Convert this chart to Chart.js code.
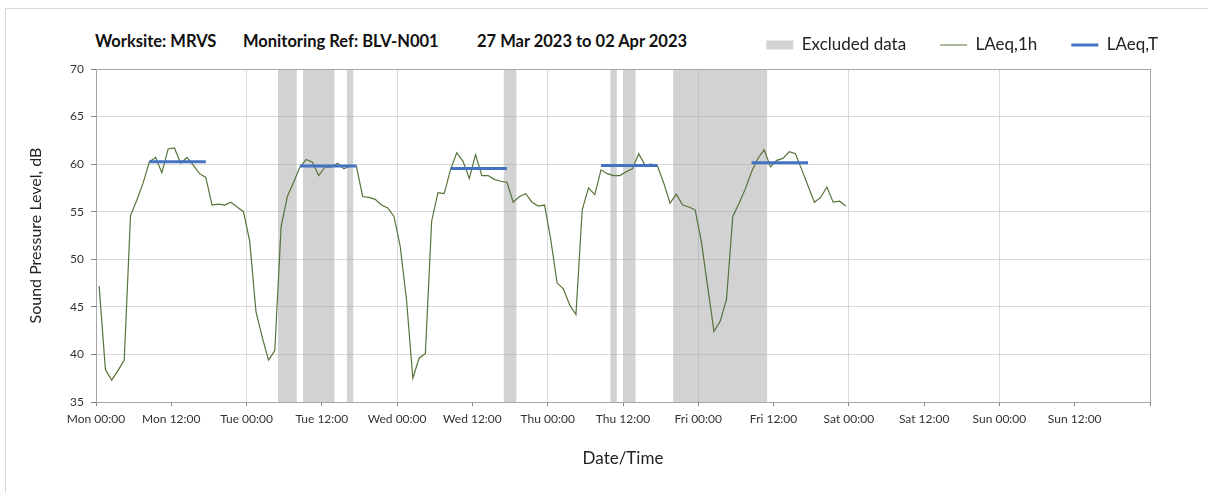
<!DOCTYPE html>
<html>
<head>
<meta charset="utf-8">
<script src="https://cdn.jsdelivr.net/npm/chart.js@4.4.0/dist/chart.umd.min.js"></script>
<style>
  html, body { margin: 0; padding: 0; background: #fff; }
  #wrap { position: relative; width: 1208px; height: 493px; }
  #frame { position: absolute; left: 5px; top: 8px; right: 0; bottom: 0; border-left: 1px solid #d9d9d9; border-top: 1px solid #d9d9d9; }
  .ttl { position: absolute; top: 31px; font: bold 16.5px Lato, sans-serif; color: #111; white-space: nowrap; }
  canvas { position: absolute; left: 0; top: 0; }
</style>
</head>
<body>
<div id="wrap">
  <div id="frame"></div>
  <div class="ttl" style="left:95px">Worksite: MRVS</div>
  <div class="ttl" style="left:243px">Monitoring Ref: BLV-N001</div>
  <div class="ttl" style="left:477px">27 Mar 2023 to 02 Apr 2023</div>
  <canvas id="noiseChart" width="1208" height="493"></canvas>
</div>
<script>
// x axis is hours from Mon 00:00
const dayNames = ['Mon', 'Tue', 'Wed', 'Thu', 'Fri', 'Sat', 'Sun'];

// hourly LAeq,1h values, one per hour starting Mon 00:00
const laeq1h = [
  47.2, 38.4, 37.3, 38.3, 39.4, 54.6, 56.2, 58.0, 60.25, 60.7, 59.1, 61.6,
  61.7, 60.1, 60.7, 59.9, 59.0, 58.6, 55.7, 55.8, 55.7, 56.0, 55.5, 55.0,
  51.9, 44.5, 41.8, 39.4, 40.4, 53.4, 56.6, 58.1, 59.7, 60.5, 60.2, 58.8,
  59.7, 59.7, 60.1, 59.5, 59.8, 59.8, 56.6, 56.5, 56.3, 55.7, 55.4, 54.5,
  51.3, 45.7, 37.5, 39.6, 40.1, 54.0, 57.0, 56.9, 59.4, 61.2, 60.3, 58.5,
  61.0, 58.8, 58.8, 58.4, 58.2, 58.1, 56.0, 56.6, 56.9, 56.0, 55.6, 55.7,
  52.0, 47.5, 46.9, 45.2, 44.2, 55.2, 57.5, 56.8, 59.4, 59.0, 58.8, 58.8,
  59.2, 59.5, 61.1, 59.9, 60.0, 59.8, 58.0, 55.9, 56.85, 55.7, 55.5, 55.2,
  51.8, 47.1, 42.4, 43.5, 45.8, 54.5, 55.9, 57.4, 59.2, 60.6, 61.5, 59.7,
  60.4, 60.6, 61.3, 61.1, 59.4, 57.7, 56.0, 56.5, 57.6, 56.0, 56.1, 55.6
];

// LAeq,T daytime periods (hours from Mon 00:00)
const laeqTStart = [8.5, 32.5, 56.5, 80.5, 104.5];
const laeqTEnd = [17.5, 41.5, 65.5, 89.5, 113.5];
const laeqTValues = [60.25, 59.8, 59.55, 59.85, 60.15];

// excluded data periods [from, to] in hours
const excludedFrom = [29, 33, 40, 65, 82, 84, 92];
const excludedTo = [32, 38, 41, 67, 83, 86, 107];

const yMin = 35, yMax = 70;

const linePoints = laeq1h.map((v, i) => ({ x: i + 0.5, y: v }));

const periodPoints = [];
laeqTValues.forEach((v, i) => {
  periodPoints.push({ x: laeqTStart[i], y: v });
  periodPoints.push({ x: laeqTEnd[i], y: v });
  periodPoints.push({ x: laeqTEnd[i], y: null });
});

const excludedPoints = [];
excludedFrom.forEach((a, i) => {
  const b = excludedTo[i];
  excludedPoints.push({ x: a, y: yMin }, { x: a, y: yMax }, { x: b, y: yMax }, { x: b, y: yMin });
});

const frameBorder = {
  id: 'frameBorder',
  afterDatasetsDraw(chart) {
    const a = chart.chartArea, ctx = chart.ctx;
    ctx.save();
    ctx.strokeStyle = '#a6a6a6';
    ctx.lineWidth = 1;
    ctx.strokeRect(Math.round(a.left) + 0.5, Math.round(a.top) + 0.5, Math.round(a.right - a.left), Math.round(a.bottom - a.top));
    ctx.restore();
  }
};

const fontFamily = 'Lato, "Open Sans", sans-serif';

new Chart(document.getElementById('noiseChart'), {
  type: 'line',
  data: {
    datasets: [{
      label: 'Excluded data',
      data: excludedPoints,
      backgroundColor: 'rgba(166,166,166,0.5)',
      borderWidth: 0,
      pointRadius: 0,
      pointStyle: 'rect',
      fill: 'start',
      tension: 0,
      order: 3
    }, {
      label: 'LAeq,1h',
      data: linePoints,
      borderColor: '#56733a',
      backgroundColor: '#56733a',
      borderWidth: 1.2,
      pointRadius: 0,
      pointStyle: 'line',
      tension: 0,
      order: 2
    }, {
      label: 'LAeq,T',
      data: periodPoints,
      borderColor: '#4472c4',
      backgroundColor: '#4472c4',
      borderWidth: 3,
      pointRadius: 0,
      pointStyle: 'line',
      spanGaps: false,
      tension: 0,
      order: 1
    }]
  },
  options: {
    responsive: false,
    animation: false,
    layout: { padding: { left: 22, right: 16, top: 2.5, bottom: 20 } },
    plugins: {
      legend: {
        display: true,
        position: 'top',
        align: 'end',
        labels: {
          usePointStyle: true,
          pointStyleWidth: 27,
          boxHeight: 9,
          padding: 34,
          color: '#222',
          font: { family: fontFamily, size: 17 },
          sort: (a, b) => a.datasetIndex - b.datasetIndex
        }
      },
      tooltip: { enabled: false }
    },
    scales: {
      x: {
        type: 'linear',
        min: 0,
        max: 168,
        afterFit: (s) => { s.height = 71; },
        ticks: {
          stepSize: 12,
          autoSkip: false,
          maxRotation: 0,
          padding: 6,
          color: '#333',
          font: { family: fontFamily, size: 12 },
          callback: (v) => v >= 168 ? '' : dayNames[Math.floor(v / 24)] + ' ' + (v % 24 === 0 ? '00:00' : '12:00')
        },
        grid: {
          color: (c) => (c.tick && c.tick.value % 24 === 0) ? '#d9d9d9' : 'rgba(0,0,0,0)',
          tickColor: '#868686',
          tickLength: 4
        },
        border: { color: '#868686' },
        title: {
          display: true,
          text: 'Date/Time',
          color: '#222',
          font: { family: fontFamily, size: 17 },
          padding: { top: 4, bottom: 4 }
        }
      },
      x2: {
        type: 'linear',
        position: 'top',
        display: true,
        afterFit: (s) => { s.height = 5.5; },
        ticks: { display: false },
        grid: { display: false },
        border: { display: false }
      },
      y: {
        min: yMin,
        max: yMax,
        afterFit: (s) => { s.width = 74; },
        ticks: {
          stepSize: 5,
          padding: 7,
          color: '#333',
          font: { family: fontFamily, size: 12 }
        },
        grid: {
          color: '#d9d9d9',
          tickColor: '#868686',
          tickLength: 5
        },
        border: { color: '#868686' },
        title: {
          display: true,
          text: 'Sound Pressure Level, dB',
          color: '#222',
          font: { family: fontFamily, size: 16 },
          padding: { top: 4, bottom: 4 }
        }
      },
      y2: {
        type: 'linear',
        position: 'right',
        display: true,
        afterFit: (s) => { s.width = 42; },
        ticks: { display: false },
        grid: { display: false },
        border: { display: false }
      }
    }
  },
  plugins: [frameBorder]
});
</script>
</body>
</html>
